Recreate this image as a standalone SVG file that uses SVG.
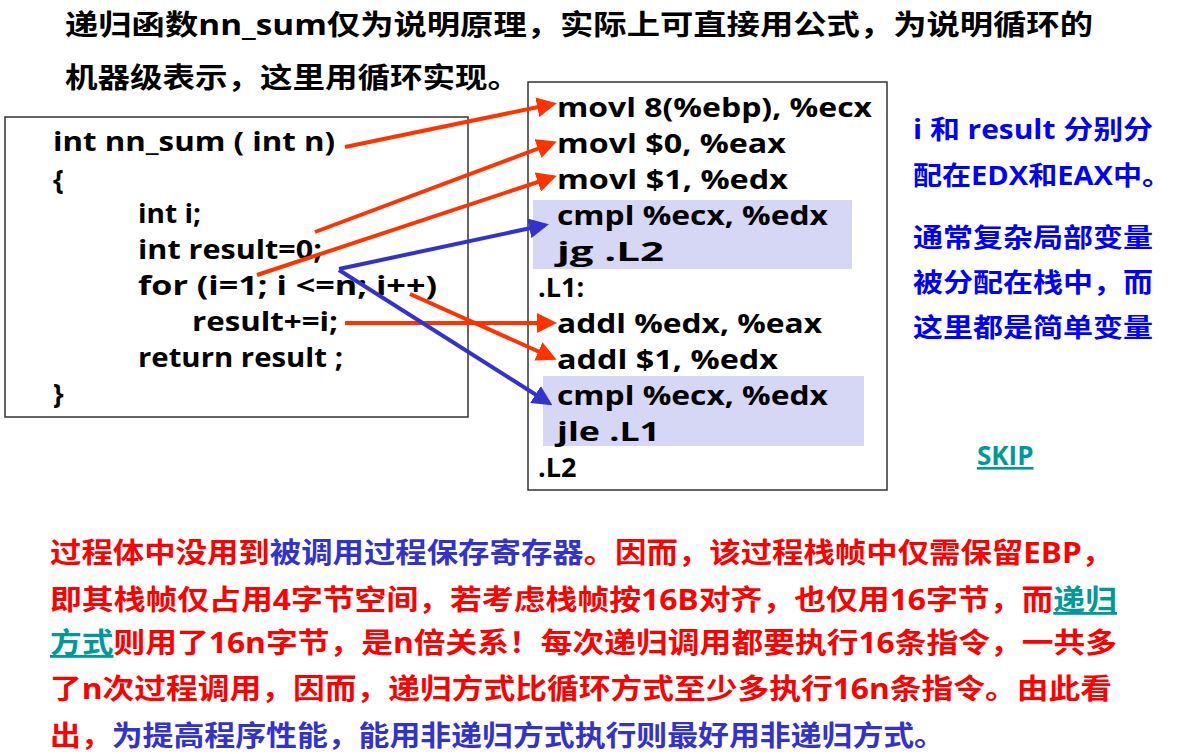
<svg xmlns="http://www.w3.org/2000/svg" width="1185" height="754" viewBox="0 0 1185 754">
<defs>
<marker id="ar" markerWidth="5" markerHeight="5" refX="4" refY="2.5" orient="auto" markerUnits="strokeWidth"><path d="M0,0 L5,2.5 L0,5 z" fill="#ff3300"/></marker>
<marker id="ab" markerWidth="5" markerHeight="5" refX="4" refY="2.5" orient="auto" markerUnits="strokeWidth"><path d="M0,0 L5,2.5 L0,5 z" fill="#3333cc"/></marker>
<style>
.t{font-family:"Open Sans","Noto Sans CJK SC",sans-serif;font-weight:bold;}
.c{font-size:27px;fill:#000;white-space:pre}
.h{font-size:28px}
.r{fill:#ff0000}.b{fill:#3333cc}.g{fill:#009999;text-decoration:underline}
.rb{font-size:26px;fill:#0000ff}
.red{stroke:#ff3300;stroke-width:4;fill:none;marker-end:url(#ar)}
.blu{stroke:#3333cc;stroke-width:4;fill:none;marker-end:url(#ab)}
</style>
</defs>
<rect width="1185" height="754" fill="#fff"/>
<g id="title" class="t h">
<text x="65" y="35" textLength="1028" lengthAdjust="spacingAndGlyphs">递归函数nn_sum仅为说明原理，实际上可直接用公式，为说明循环的</text>
<text x="65" y="88" textLength="455" lengthAdjust="spacingAndGlyphs">机器级表示，这里用循环实现。</text>
</g>
<g id="code">
<rect x="5" y="117" width="463" height="300" fill="#fff" stroke="#333" stroke-width="1.5"/>
<g class="t c" xml:space="preserve">
<text x="53" y="151" textLength="282" lengthAdjust="spacingAndGlyphs">int  nn_sum ( int n)</text>
<text x="53" y="189">{</text>
<text x="138" y="223" textLength="63" lengthAdjust="spacingAndGlyphs">int i;</text>
<text x="138" y="259" textLength="184" lengthAdjust="spacingAndGlyphs">int result=0;</text>
<text x="138" y="295" textLength="299" lengthAdjust="spacingAndGlyphs">for (i=1; i &lt;=n; i++)</text>
<text x="192" y="331" textLength="146" lengthAdjust="spacingAndGlyphs">result+=i;</text>
<text x="138" y="367" textLength="205" lengthAdjust="spacingAndGlyphs">return result ;</text>
<text x="53" y="403">}</text>
</g>
</g>
<g id="asm">
<rect x="528" y="82" width="359" height="408" fill="#fff" stroke="#333" stroke-width="1.5"/>
<rect x="533" y="200" width="319" height="69" fill="#d6d6f5"/>
<rect x="543" y="376" width="321" height="70" fill="#d6d6f5"/>
<g class="t c" xml:space="preserve">
<text x="557" y="117" textLength="315" lengthAdjust="spacingAndGlyphs">movl  8(%ebp), %ecx</text>
<text x="557" y="153" textLength="229" lengthAdjust="spacingAndGlyphs">movl  $0, %eax</text>
<text x="557" y="189" textLength="231" lengthAdjust="spacingAndGlyphs">movl  $1, %edx</text>
<text x="557" y="225" textLength="271" lengthAdjust="spacingAndGlyphs">cmpl  %ecx, %edx</text>
<text x="557" y="261" textLength="107" lengthAdjust="spacingAndGlyphs">jg    .L2</text>
<text x="538" y="297">.L1:</text>
<text x="557" y="333" textLength="265" lengthAdjust="spacingAndGlyphs">addl  %edx, %eax</text>
<text x="557" y="369" textLength="221" lengthAdjust="spacingAndGlyphs">addl  $1, %edx</text>
<text x="557" y="405" textLength="271" lengthAdjust="spacingAndGlyphs">cmpl  %ecx, %edx</text>
<text x="557" y="441" textLength="103" lengthAdjust="spacingAndGlyphs">jle   .L1</text>
<text x="538" y="477">.L2</text>
</g>
</g>
<g id="connectors">
<line class="red" x1="345" y1="147" x2="553" y2="104"/>
<line class="red" x1="315" y1="232" x2="553" y2="143"/>
<line class="red" x1="257" y1="275" x2="553" y2="177"/>
<line class="blu" x1="339" y1="269" x2="545" y2="225"/>
<line class="red" x1="345" y1="323" x2="553" y2="323"/>
<line class="red" x1="410" y1="294" x2="553" y2="358"/>
<line class="blu" x1="339" y1="270" x2="549" y2="403"/>
</g>
<g id="notes" class="t rb">
<text x="913" y="139" textLength="240" lengthAdjust="spacingAndGlyphs">i 和 result 分别分</text>
<text x="913" y="185" textLength="258" lengthAdjust="spacingAndGlyphs">配在EDX和EAX中。</text>
<text x="913" y="247" textLength="240" lengthAdjust="spacingAndGlyphs">通常复杂局部变量</text>
<text x="913" y="292" textLength="240" lengthAdjust="spacingAndGlyphs">被分配在栈中，而</text>
<text x="913" y="337" textLength="240" lengthAdjust="spacingAndGlyphs">这里都是简单变量</text>
</g>
<g id="skip"><text class="t g" x="977" y="465" font-size="26">SKIP</text></g>
<g id="bottom" class="t h">
<text x="50" y="563" textLength="1063" lengthAdjust="spacingAndGlyphs"><tspan class="r">过程体中没用到</tspan><tspan class="b">被调用过程保存寄存器</tspan><tspan class="r">。因而，该过程栈帧中仅需保留EBP，</tspan></text>
<text x="50" y="610" textLength="1067" lengthAdjust="spacingAndGlyphs"><tspan class="r">即其栈帧仅占用4字节空间，若考虑栈帧按16B对齐，也仅用16字节，而</tspan><tspan class="g">递归</tspan></text>
<text x="50" y="653" textLength="1067" lengthAdjust="spacingAndGlyphs"><tspan class="g">方式</tspan><tspan class="r">则用了16n字节，是n倍关系！每次递归调用都要执行16条指令，一共多</tspan></text>
<text x="50" y="699" textLength="1062" lengthAdjust="spacingAndGlyphs" class="r">了n次过程调用，因而，递归方式比循环方式至少多执行16n条指令。由此看</text>
<text x="50" y="746" textLength="895" lengthAdjust="spacingAndGlyphs"><tspan class="r">出，</tspan><tspan class="b">为提高程序性能，能用非递归方式执行则最好用非递归方式。</tspan></text>
</g>
</svg>
